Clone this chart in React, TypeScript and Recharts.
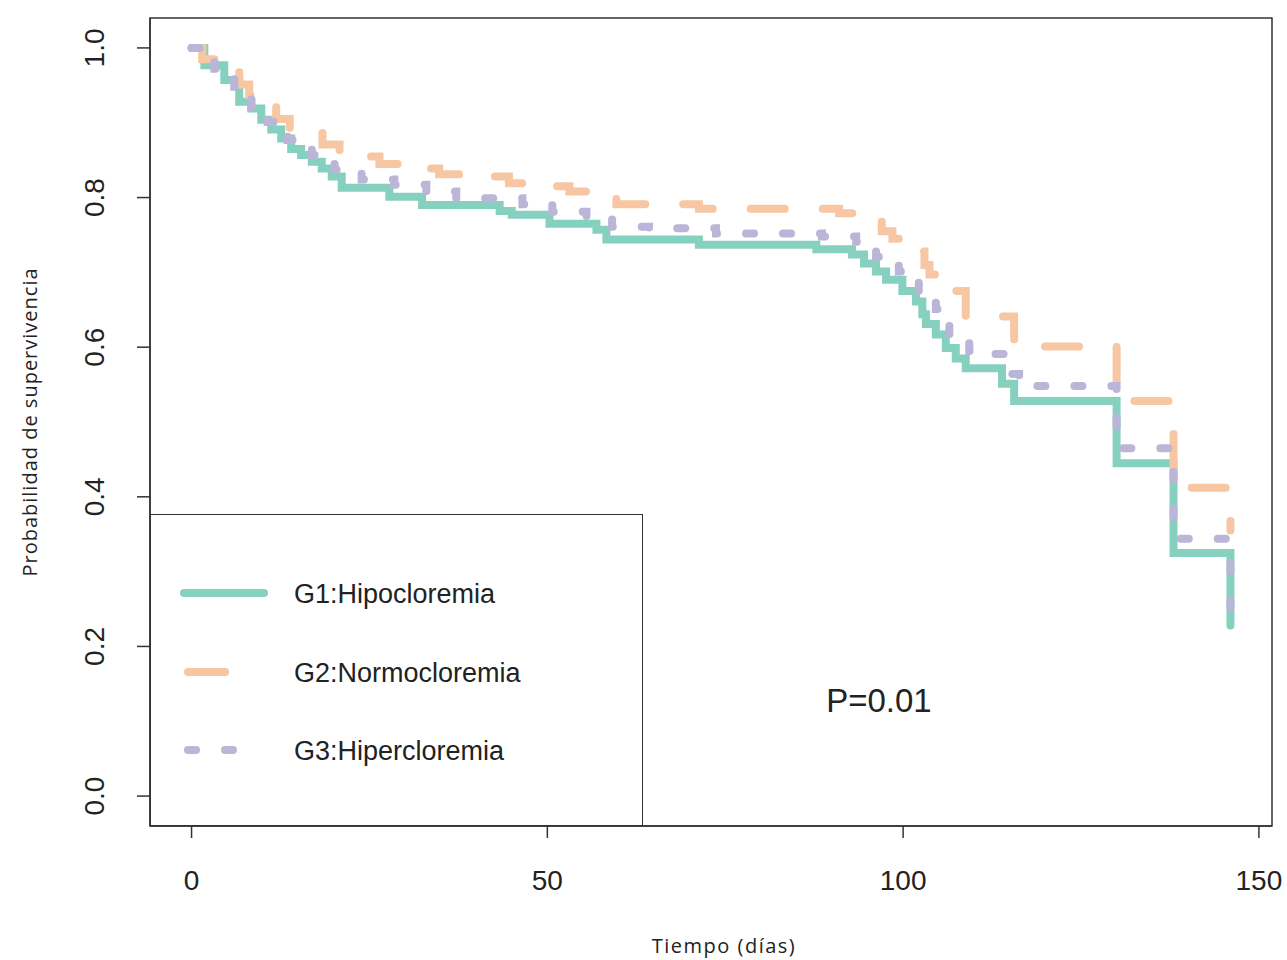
import React from 'react';
import { LineChart, Line, XAxis, YAxis, Legend, ReferenceDot, ReferenceArea } from 'recharts';

// Kaplan-Meier steps (days, survival)
const g1Time = [0, 1.8, 4.6, 6.7, 8.4, 9.8, 11.2, 12.6, 14.0, 15.4, 16.9, 18.3, 19.7, 21.1, 27.8, 32.4, 43.3, 45.0, 50.3, 56.9, 58.3, 71.3, 87.8, 92.8, 94.5, 96.2, 97.6, 99.9, 101.8, 102.7, 103.2, 104.6, 106.0, 107.4, 108.8, 113.9, 115.6, 130, 138, 146];
const g1Surv = [1.0, 0.977, 0.957, 0.928, 0.919, 0.904, 0.891, 0.879, 0.865, 0.857, 0.848, 0.839, 0.828, 0.813, 0.801, 0.79, 0.782, 0.777, 0.765, 0.757, 0.744, 0.737, 0.731, 0.724, 0.712, 0.701, 0.69, 0.675, 0.661, 0.644, 0.631, 0.617, 0.599, 0.585, 0.572, 0.551, 0.528, 0.445, 0.325, 0.228];

const g2Time = [0, 1.5, 3.5, 6.7, 8.1, 11.9, 13.8, 18.4, 20.8, 26.4, 29.2, 34.8, 38.6, 44.6, 47.9, 53.1, 56.3, 59.7, 71.3, 91.0, 95.0, 97.0, 98.5, 100.5, 103.0, 103.7, 105.5, 108.8, 115.6, 130, 138, 146];
const g2Surv = [1.0, 0.985, 0.972, 0.951, 0.937, 0.905, 0.892, 0.871, 0.855, 0.845, 0.839, 0.831, 0.828, 0.819, 0.815, 0.808, 0.804, 0.791, 0.785, 0.779, 0.768, 0.755, 0.745, 0.728, 0.71, 0.697, 0.675, 0.641, 0.601, 0.528, 0.412, 0.355];

const g3Time = [0, 3.2, 6.0, 8.4, 10.7, 13.5, 16.9, 20.1, 23.9, 28.5, 33.0, 37.2, 46.5, 50.7, 55.5, 59.1, 64.3, 73.7, 88.6, 93.4, 96.2, 99.4, 102.2, 104.6, 106.5, 109.3, 111.4, 115.3, 116.3, 130, 138, 146];
const g3Surv = [1.0, 0.972, 0.948, 0.921, 0.901, 0.877, 0.857, 0.837, 0.824, 0.817, 0.808, 0.799, 0.791, 0.781, 0.775, 0.761, 0.759, 0.752, 0.748, 0.741, 0.721, 0.701, 0.675, 0.651, 0.617, 0.595, 0.591, 0.564, 0.548, 0.465, 0.344, 0.23];

const groupNames = ['G1:Hipocloremia', 'G2:Normocloremia', 'G3:Hipercloremia'];
const groupColors = ['#86d0bf', '#f6c7a2', '#bbb5d8'];
const xTicks = [0, 50, 100, 150];
const yTicks = [0, 0.2, 0.4, 0.6, 0.8, 1.0];
const xDomain = [-5.84, 151.84];
const yDomain = [-0.04, 1.04];
const pValue = 'P=0.01';

const toRows = (t: number[], s: number[]) => t.map((d, i) => ({ t: d, s: s[i] }));
const g1 = toRows(g1Time, g1Surv);
const g2 = toRows(g2Time, g2Surv);
const g3 = toRows(g3Time, g3Surv);

const font = '"Liberation Sans", Arial, sans-serif';

const XTick = (props: any) => {
    const { x, y, payload } = props;
    return (
        <text x={x} y={y + 50} textAnchor="middle" fontSize={28} fontFamily={font} fill="#222">
            {payload.value}
        </text>
    );
};

const YTick = (props: any) => {
    const { x, y, payload } = props;
    return (
        <text transform={`translate(${x - 31},${y}) rotate(-90)`} textAnchor="middle" fontSize={28} fontFamily={font} fill="#222">
            {Number(payload.value).toFixed(1)}
        </text>
    );
};

const LegendBox = () => (
    <div style={{ width: 493, height: 312, border: '1.5px solid #333', boxSizing: 'border-box', background: '#fff' }}>
        <svg width={490} height={309}>
            <line x1={33} x2={113} y1={78} y2={78} stroke={groupColors[0]} strokeWidth={8} strokeLinecap="round" />
            <line x1={37} x2={74} y1={157} y2={157} stroke={groupColors[1]} strokeWidth={8} strokeLinecap="round" />
            <line x1={37} x2={87} y1={235} y2={235} stroke={groupColors[2]} strokeWidth={8} strokeLinecap="round" strokeDasharray="8 29" />
            {groupNames.map((n, i) => (
                <text key={n} x={143} y={88 + i * 78.5} fontSize={27} fontFamily={font} fill="#222">{n}</text>
            ))}
        </svg>
    </div>
);

function App() {
    return (
        <div style={{ position: 'absolute', left: 0, top: 0, background: '#fff' }}>
            <LineChart width={1287} height={960} margin={{ top: 18, right: 15, bottom: 0, left: 0 }}>
                <XAxis type="number" dataKey="t" domain={xDomain} ticks={xTicks} allowDataOverflow
                    height={134} tickSize={12} tick={<XTick />} axisLine={{ stroke: '#333', strokeWidth: 1.5 }}
                    tickLine={{ stroke: '#333', strokeWidth: 1.5 }}
                    label={{ value: 'Tiempo (días)', position: 'center', dy: 53, dx: 13, fontSize: 20, letterSpacing: 1.5, fontFamily: 'Open Sans', fill: '#222' }} />
                <YAxis type="number" domain={yDomain} ticks={yTicks} allowDataOverflow width={150} tickSize={13}
                    tick={<YTick />} axisLine={{ stroke: '#333', strokeWidth: 1.5 }} tickLine={{ stroke: '#333', strokeWidth: 1.5 }}
                    label={{ value: 'Probabilidad  de  supervivencia', angle: -90, position: 'center', dx: -45, fontSize: 20, letterSpacing: 1, fontFamily: 'Open Sans', fill: '#222' }} />
                {/* plot frame */}
                <ReferenceArea x1={xDomain[0]} x2={xDomain[1]} y1={yDomain[0]} y2={yDomain[1]} fill="none"
                    stroke="#333" strokeWidth={1.5} ifOverflow="visible" />
                <Legend layout="horizontal" verticalAlign="middle" align="center" content={<LegendBox />}
                    wrapperStyle={{ position: 'absolute', left: 150, top: 514, width: 493, height: 312 }} />
                <Line data={g1} dataKey="s" name={groupNames[0]} type="stepAfter" stroke={groupColors[0]} strokeWidth={8}
                    strokeLinecap="round" dot={false} activeDot={false} isAnimationActive={false} />
                <Line data={g2} dataKey="s" name={groupNames[1]} type="stepAfter" stroke={groupColors[1]} strokeWidth={8}
                    strokeDasharray="34 38" strokeLinecap="round" dot={false} activeDot={false} isAnimationActive={false} />
                <Line data={g3} dataKey="s" name={groupNames[2]} type="stepAfter" stroke={groupColors[2]} strokeWidth={8}
                    strokeDasharray="8 29" strokeLinecap="round" dot={false} activeDot={false} isAnimationActive={false} />
                <ReferenceDot x={96.6} y={0.128} r={0} fill="none" stroke="none"
                    label={{ value: pValue, position: 'center', fontSize: 33, fontFamily: font, fill: '#222' }} />
            </LineChart>
        </div>
    );
}

export default App;
